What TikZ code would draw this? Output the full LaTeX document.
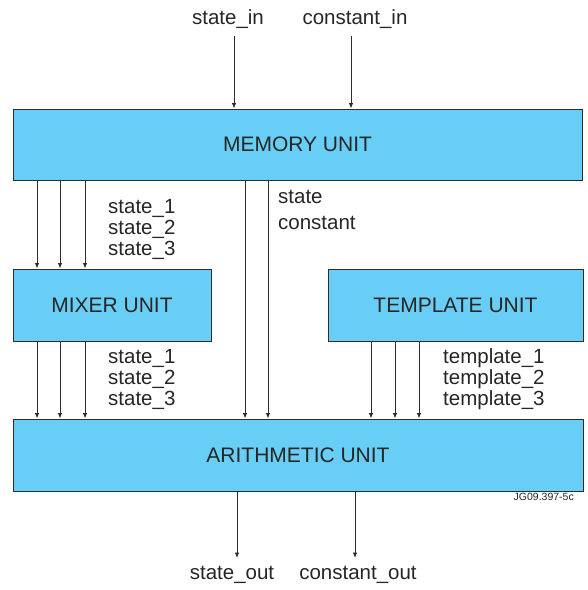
\documentclass[tikz,border=0pt]{standalone}
\usepackage{fontspec}
\setmainfont{Liberation Sans}
\usetikzlibrary{arrows.meta}
\definecolor{unitfill}{RGB}{104,206,245}
\definecolor{linegray}{RGB}{45,45,45}
\tikzset{
  unit/.style={draw=linegray, line width=1pt, fill=unitfill, inner sep=0pt},
  unittext/.style={font=\fontsize{21}{24}\selectfont, text=black!85},
  txt/.style={font=\fontsize{20.5}{23}\selectfont, text=black!85, inner sep=0pt},
  lbl/.style={txt, anchor=west},
  arr/.style={draw=linegray, line width=0.9pt, -{Latex[length=5.5pt,width=4.5pt]}},
}
\begin{document}
\begin{tikzpicture}[x=1pt,y=-1pt]
\useasboundingbox (0,0) rectangle (588,590);
% boxes
\node[unit, minimum width=569pt, minimum height=71pt] (mem) at (297.5,144.5) {};
\node[unittext] at (mem.center) {MEMORY UNIT};
\node[unit, minimum width=198pt, minimum height=72pt] (mix) at (112,305) {};
\node[unittext] at (mix.center) {MIXER UNIT};
\node[unit, minimum width=255pt, minimum height=72pt] (tmp) at (455.5,305) {};
\node[unittext] at (tmp.center) {TEMPLATE UNIT};
\node[unit, minimum width=570pt, minimum height=72pt] (ari) at (298,455) {};
\node[unittext] at (ari.center) {ARITHMETIC UNIT};
% inputs
\node[txt] (sin) at (228,19) {state\_in};
\node[txt] (cin) at (355,19) {constant\_in};
\coordinate (sinT) at (234,36);
\coordinate (cinT) at (351,36);
\draw[arr] (sinT) -- (sinT |- mem.north);
\draw[arr] (cinT) -- (cinT |- mem.north);
% memory -> mixer, mixer -> arithmetic
\foreach \x in {37,60,85} {
  \draw[arr] (mem.south -| \x,0) -- (mix.north -| \x,0);
  \draw[arr] (mix.south -| \x,0) -- (ari.north -| \x,0);
}
% memory -> arithmetic
\foreach \x in {245,268} {
  \draw[arr] (mem.south -| \x,0) -- (ari.north -| \x,0);
}
% template -> arithmetic
\foreach \x in {371,395,419} {
  \draw[arr] (tmp.south -| \x,0) -- (ari.north -| \x,0);
}
% outputs
\coordinate (soutB) at (237,558);
\coordinate (coutB) at (355,558);
\draw[arr] (ari.south -| soutB) -- (soutB);
\draw[arr] (ari.south -| coutB) -- (coutB);
\node[txt] (sout) at (232,575) {state\_out};
\node[txt] (cout) at (358,575) {constant\_out};
% labels
\node[lbl] (m1) at (108,208) {state\_1};
\node[lbl] (m2) at (108,229) {state\_2};
\node[lbl] (m3) at (108,250) {state\_3};
\node[lbl] (sc1) at (278,197) {state};
\node[lbl] (sc2) at (278,223) {constant};
\node[lbl] (x1) at (108,358) {state\_1};
\node[lbl] (x2) at (108,379) {state\_2};
\node[lbl] (x3) at (108,400) {state\_3};
\node[lbl] (t1) at (443,358) {template\_1};
\node[lbl] (t2) at (443,379) {template\_2};
\node[lbl] (t3) at (443,400) {template\_3};
\node[font=\fontsize{10.5}{12}\selectfont, text=black!85, inner sep=0pt, anchor=east] (jg) at (574,497) {JG09.397-5c};
\end{tikzpicture}
\end{document}
